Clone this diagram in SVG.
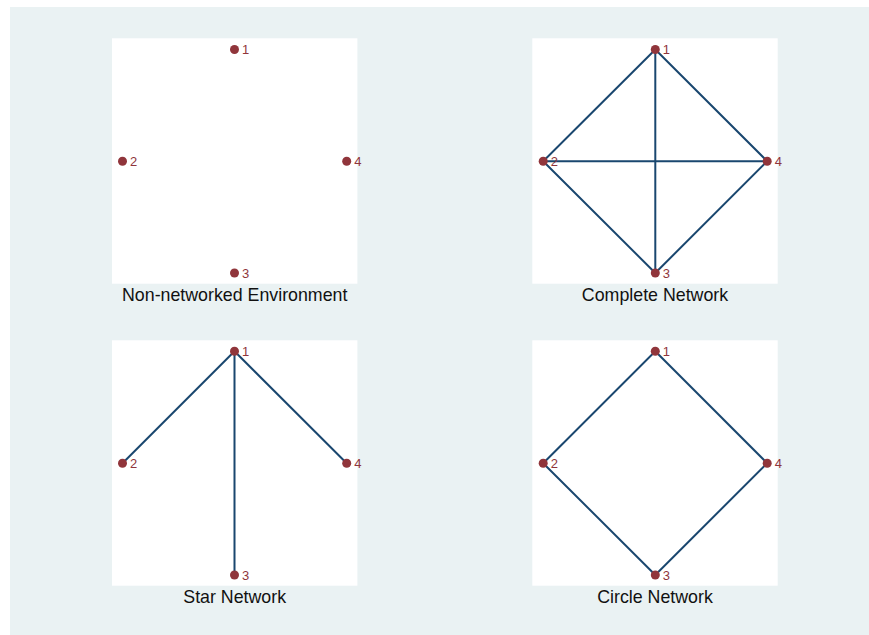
<svg xmlns="http://www.w3.org/2000/svg" width="869" height="635" viewBox="0 0 869 635">
  <style>
    .bg { fill: #eaf2f3; }
    .plot { fill: #ffffff; }
    .edge { stroke: #1a476f; stroke-width: 2; fill: none; stroke-linecap: round; }
    .lbl { fill: #90353b; font-family: "Liberation Sans", Arial, sans-serif; font-size: 13px; }
    .title { fill: #111111; font-family: "Liberation Sans", Arial, sans-serif; font-size: 17.8px; text-anchor: middle; }
  </style>
  <defs>
    <circle id="dot" r="4.5" fill="#90353b"/>
  </defs>

  <!-- graph region -->
  <rect class="bg" x="10" y="7" width="859" height="628"/>

  <!-- plot areas -->
  <rect class="plot" x="112" y="38.3" width="245.4" height="245.4"/>
  <rect class="plot" x="532.3" y="38.3" width="245.4" height="245.4"/>
  <rect class="plot" x="112" y="340.3" width="245.4" height="245.4"/>
  <rect class="plot" x="532.3" y="340.3" width="245.4" height="245.4"/>

  <!-- connectors -->
  <g id="connectors">
    <!-- complete network -->
    <line class="edge" x1="655.3" y1="49.5" x2="543.2" y2="161.2"/>
    <line class="edge" x1="655.3" y1="49.5" x2="767.2" y2="161.2"/>
    <line class="edge" x1="655.3" y1="49.5" x2="655.3" y2="273"/>
    <line class="edge" x1="543.2" y1="161.2" x2="767.2" y2="161.2"/>
    <line class="edge" x1="543.2" y1="161.2" x2="655.3" y2="273"/>
    <line class="edge" x1="767.2" y1="161.2" x2="655.3" y2="273"/>
    <!-- star network -->
    <line class="edge" x1="234.5" y1="351.3" x2="122.5" y2="463.2"/>
    <line class="edge" x1="234.5" y1="351.3" x2="346.7" y2="463.2"/>
    <line class="edge" x1="234.5" y1="351.3" x2="234.5" y2="575"/>
    <!-- circle network -->
    <line class="edge" x1="655.3" y1="351.3" x2="543.2" y2="463.2"/>
    <line class="edge" x1="655.3" y1="351.3" x2="767.2" y2="463.2"/>
    <line class="edge" x1="543.2" y1="463.2" x2="655.3" y2="575"/>
    <line class="edge" x1="767.2" y1="463.2" x2="655.3" y2="575"/>
  </g>

  <!-- non-networked environment -->
  <g id="a1" class="node"><use href="#dot" x="234.5" y="49.5"/><text class="lbl" x="242" y="54.2">1</text></g>
  <g id="a2" class="node"><use href="#dot" x="122.5" y="161.2"/><text class="lbl" x="130" y="165.9">2</text></g>
  <g id="a3" class="node"><use href="#dot" x="234.5" y="273"/><text class="lbl" x="242" y="277.7">3</text></g>
  <g id="a4" class="node"><use href="#dot" x="346.7" y="161.2"/><text class="lbl" x="354.2" y="165.9">4</text></g>
  <text class="title" x="234.7" y="300.7">Non-networked Environment</text>

  <!-- complete network -->
  <g id="b1" class="node"><use href="#dot" x="655.3" y="49.5"/><text class="lbl" x="662.8" y="54.2">1</text></g>
  <g id="b2" class="node"><use href="#dot" x="543.2" y="161.2"/><text class="lbl" x="550.7" y="165.9">2</text></g>
  <g id="b3" class="node"><use href="#dot" x="655.3" y="273"/><text class="lbl" x="662.8" y="277.7">3</text></g>
  <g id="b4" class="node"><use href="#dot" x="767.2" y="161.2"/><text class="lbl" x="774.7" y="165.9">4</text></g>
  <text class="title" x="655" y="300.7">Complete Network</text>

  <!-- star network -->
  <g id="c1" class="node"><use href="#dot" x="234.5" y="351.3"/><text class="lbl" x="242" y="356">1</text></g>
  <g id="c2" class="node"><use href="#dot" x="122.5" y="463.2"/><text class="lbl" x="130" y="467.9">2</text></g>
  <g id="c3" class="node"><use href="#dot" x="234.5" y="575"/><text class="lbl" x="242" y="579.7">3</text></g>
  <g id="c4" class="node"><use href="#dot" x="346.7" y="463.2"/><text class="lbl" x="354.2" y="467.9">4</text></g>
  <text class="title" x="234.7" y="602.7">Star Network</text>

  <!-- circle network -->
  <g id="d1" class="node"><use href="#dot" x="655.3" y="351.3"/><text class="lbl" x="662.8" y="356">1</text></g>
  <g id="d2" class="node"><use href="#dot" x="543.2" y="463.2"/><text class="lbl" x="550.7" y="467.9">2</text></g>
  <g id="d3" class="node"><use href="#dot" x="655.3" y="575"/><text class="lbl" x="662.8" y="579.7">3</text></g>
  <g id="d4" class="node"><use href="#dot" x="767.2" y="463.2"/><text class="lbl" x="774.7" y="467.9">4</text></g>
  <text class="title" x="655" y="602.7">Circle Network</text>
</svg>
